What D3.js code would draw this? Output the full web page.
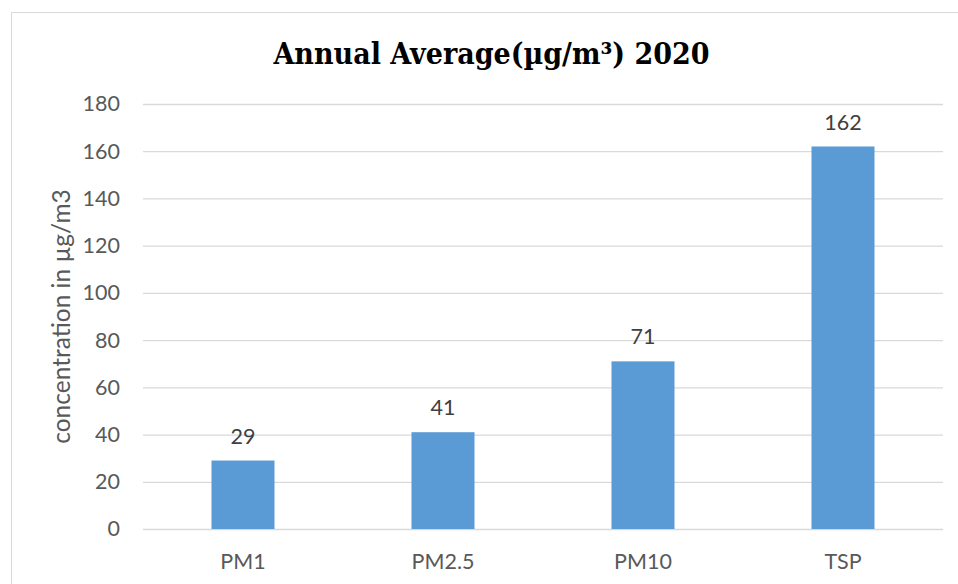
<!DOCTYPE html>
<html>
<head>
<meta charset="utf-8">
<script src="https://cdn.jsdelivr.net/npm/d3@7"></script>
<style>
  html, body { margin: 0; padding: 0; background: #fff; }
  svg { display: block; }
</style>
</head>
<body>
<svg id="chart" width="958" height="584"></svg>
<script>
const categories = ["PM1", "PM2.5", "PM10", "TSP"];
const values = [29, 41, 71, 162];
const yTicks = [0, 20, 40, 60, 80, 100, 120, 140, 160, 180];
const titleText = "Annual Average(µg/m³) 2020";
const yLabel = "concentration in µg/m3";

const svg = d3.select("#chart");
const W = 958, H = 584;
const margin = { left: 143, right: 15, top: 104, bottom: 55 };

// chart border
svg.append("rect")
  .attr("x", 11.5).attr("y", 12.5)
  .attr("width", W).attr("height", H)
  .attr("fill", "#fff").attr("stroke", "#D9D9D9").attr("stroke-width", 1);

const x = d3.scaleBand().domain(categories)
  .range([margin.left, W - margin.right])
  .paddingInner(0.685).paddingOuter(0.3425);
const y = d3.scaleLinear().domain([0, 180]).range([H - margin.bottom, margin.top]);

const font = "Lato, 'Open Sans', sans-serif";

// gridlines + tick labels via axis
const yAxis = d3.axisLeft(y).tickValues(yTicks).tickSize(-(W - margin.right - margin.left)).tickPadding(23);
const gy = svg.append("g").attr("transform", `translate(${margin.left},0)`).call(yAxis);
gy.select(".domain").remove();
gy.selectAll(".tick line").attr("stroke", "#D9D9D9").attr("stroke-width", 1.3);
gy.selectAll(".tick text")
  .attr("fill", "#595959").attr("font-family", font).attr("font-size", 21.5);

// bars
svg.append("g").selectAll("rect").data(categories).join("rect")
  .attr("x", d => x(d))
  .attr("width", x.bandwidth())
  .attr("y", (d, i) => y(values[i]))
  .attr("height", (d, i) => y(0) - y(values[i]))
  .attr("fill", "#5B9BD5");

// value labels
svg.append("g").selectAll("text").data(categories).join("text")
  .attr("x", d => x(d) + x.bandwidth() / 2)
  .attr("y", (d, i) => y(values[i]) - 17)
  .attr("text-anchor", "middle")
  .attr("fill", "#404040").attr("font-family", font).attr("font-size", 21.5)
  .text((d, i) => values[i]);

// x axis labels
const xAxis = d3.axisBottom(x).tickSize(0).tickPadding(25);
const gx = svg.append("g").attr("transform", `translate(0,${y(0)})`).call(xAxis);
gx.select(".domain").remove();
gx.selectAll(".tick text")
  .attr("fill", "#595959").attr("font-family", font).attr("font-size", 21.5);

// y label
svg.append("text")
  .attr("transform", `translate(70,${(y(0) + y(180)) / 2}) rotate(-90)`)
  .attr("text-anchor", "middle")
  .attr("fill", "#595959").attr("font-family", font).attr("font-size", 24.5)
  .text(yLabel);

// title
svg.append("text")
  .attr("x", 491.5).attr("y", 64)
  .attr("text-anchor", "middle")
  .attr("fill", "#000").attr("font-family", "'DejaVu Serif Condensed', 'DejaVu Serif', serif")
  .attr("font-weight", "bold").attr("font-size", 30)
  .text(titleText);
</script>
</body>
</html>
